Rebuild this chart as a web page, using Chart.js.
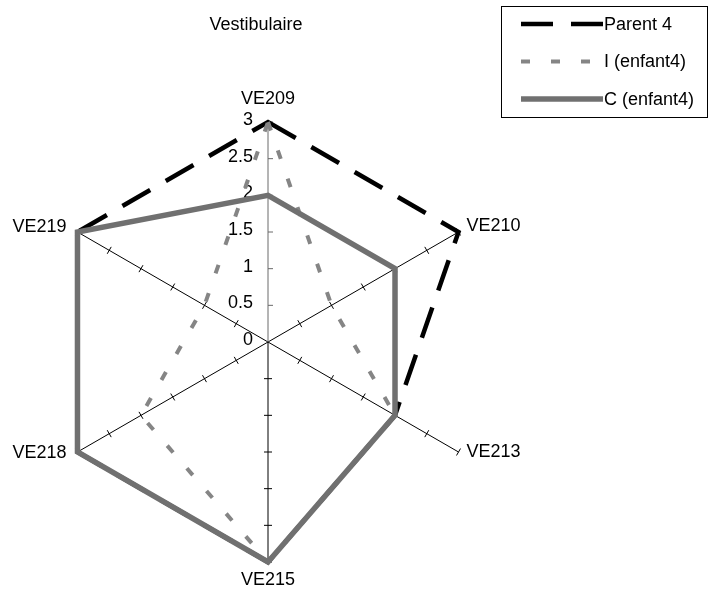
<!DOCTYPE html>
<html>
<head>
<meta charset="utf-8">
<script src="https://cdn.jsdelivr.net/npm/chart.js@4/dist/chart.umd.min.js"></script>
<style>
  html, body { margin: 0; padding: 0; background: #ffffff; }
  #wrap { width: 708px; height: 590px; }
</style>
</head>
<body>
<div id="wrap"><canvas id="radar" width="708" height="590"></canvas></div>
<script>
// Axes of the radar (clockwise from the top)
const categories = ['VE209', 'VE210', 'VE213', 'VE215', 'VE218', 'VE219'];

// Series values, one per axis
const parent4 = [3, 3, 2, 3, 3, 3];
const enfantI = [3, 1, 2, 3, 2, 1];
const enfantC = [2, 2, 2, 3, 3, 3];

// Series names and radial tick labels
const seriesNames = ['Parent 4', 'I (enfant4)', 'C (enfant4)'];
const tickLabels = ['0', '0.5', '1', '1.5', '2', '2.5', '3'];
const chartTitle = 'Vestibulaire';

const FONT = '18px "Liberation Sans", Arial, sans-serif';

// Draws the tick marks along every spoke and the value labels on the vertical axis
const spokeTicks = {
  id: 'spokeTicks',
  beforeDatasetsDraw(chart) {
    const s = chart.scales.r;
    const ctx = chart.ctx;
    ctx.save();
    ctx.lineWidth = 1;
    const n = chart.data.labels.length;
    for (let i = 0; i < n; i++) {
      const a = s.getIndexAngle(i) - Math.PI / 2;
      const px = -Math.sin(a), py = Math.cos(a); // perpendicular
      ctx.strokeStyle = i === 0 ? '#6a6a6a' : '#000';
      s.ticks.forEach(t => {
        if (t.value === s.min) return;
        const p = s.getPointPositionForValue(i, t.value);
        ctx.beginPath();
        if (i === 0) {
          ctx.moveTo(p.x, p.y);
          ctx.lineTo(p.x + 5, p.y);
        } else {
          ctx.moveTo(p.x - px * 4, p.y - py * 4);
          ctx.lineTo(p.x + px * 4, p.y + py * 4);
        }
        ctx.stroke();
      });
    }
    // value labels left of the vertical axis
    ctx.fillStyle = '#000';
    ctx.font = FONT;
    ctx.textAlign = 'right';
    ctx.textBaseline = 'middle';
    s.ticks.forEach(t => {
      const p = s.getPointPositionForValue(0, t.value);
      ctx.fillText(t.label, s.xCenter - 15, p.y - 2);
    });
    ctx.restore();
  },
  afterDraw(chart) {
    const s = chart.scales.r;
    const ctx = chart.ctx;
    ctx.save();
    ctx.fillStyle = '#000';
    ctx.font = FONT;
    ctx.textBaseline = 'alphabetic';

    // axis names around the radar
    chart.data.labels.forEach((lab, i) => {
      const p = s.getPointPositionForValue(i, s.max);
      const ang = s.getIndexAngle(i);
      const sn = Math.sin(ang), cs = Math.cos(ang);
      if (Math.abs(sn) < 1e-6) {
        ctx.textAlign = 'center';
        ctx.fillText(lab, p.x, cs > 0 ? p.y - 18 : p.y + 23);
      } else if (sn > 0) {
        ctx.textAlign = 'left';
        ctx.fillText(lab, p.x + 8, cs > 0 ? p.y - 1 : p.y + 5);
      } else {
        ctx.textAlign = 'right';
        ctx.fillText(lab, p.x - 11, cs > 0 ? p.y : p.y + 6);
      }
    });

    // title
    ctx.textAlign = 'center';
    ctx.fillText(chartTitle, 256, 30);

    // legend box
    const bx = 501, by = 6, bw = 206, bh = 111;
    ctx.lineWidth = 1;
    ctx.strokeStyle = '#000';
    ctx.setLineDash([]);
    ctx.strokeRect(bx + 0.5, by + 0.5, bw, bh);
    chart.data.datasets.forEach((ds, k) => {
      const y = 24 + k * 37.5;
      ctx.save();
      ctx.strokeStyle = ds.borderColor;
      ctx.lineWidth = ds.borderWidth;
      ctx.setLineDash(ds.borderDash || []);
      ctx.beginPath();
      ctx.moveTo(521, y);
      ctx.lineTo(603, y);
      ctx.stroke();
      ctx.restore();
      ctx.textAlign = 'left';
      ctx.textBaseline = 'middle';
      ctx.fillText(ds.label, 604, y + 1);
    });
    ctx.restore();
  }
};

new Chart(document.getElementById('radar'), {
  type: 'radar',
  data: {
    labels: categories,
    datasets: [
      {
        label: seriesNames[0],
        data: parent4,
        borderColor: '#000000',
        borderWidth: 4.5,
        borderDash: [32, 18],
        order: 2
      },
      {
        label: seriesNames[1],
        data: enfantI,
        borderColor: '#858585',
        borderWidth: 4,
        borderDash: [9, 21],
        order: 1
      },
      {
        label: seriesNames[2],
        data: enfantC,
        borderColor: '#707070',
        borderWidth: 5.5,
        borderDash: [],
        order: 0
      }
    ]
  },
  options: {
    responsive: false,
    animation: false,
    devicePixelRatio: 1,
    layout: { padding: { top: 122, bottom: 28, left: 48, right: 220 } },
    elements: {
      line: { fill: false, tension: 0, borderJoinStyle: 'miter', borderCapStyle: 'butt' },
      point: { radius: 0, hoverRadius: 0 }
    },
    plugins: {
      legend: { display: false },
      title: { display: false },
      tooltip: { enabled: false }
    },
    scales: {
      r: {
        min: 0,
        max: 3,
        ticks: {
          stepSize: 0.5,
          display: false,
          callback: (v, idx) => tickLabels[idx]
        },
        grid: { display: false },
        angleLines: {
          display: true,
          color: ctx => (ctx.index === 0 ? '#6a6a6a' : '#000000'),
          lineWidth: 1
        },
        pointLabels: { display: false }
      }
    }
  },
  plugins: [spokeTicks]
});
</script>
</body>
</html>
